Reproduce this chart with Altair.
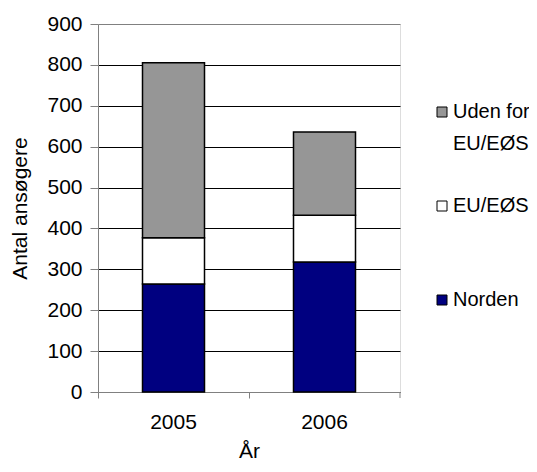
import altair as alt
import pandas as pd

years = ["2005", "2006"]
series = ["Norden", "EU/EØS", "Uden for EU/EØS"]
norden = [264, 318]
eu_eos = [113, 114]
uden_for = [428, 204]

colors = {"Uden for EU/EØS": "#969696", "EU/EØS": "#ffffff", "Norden": "#000080"}
legend_order = ["Uden for EU/EØS", "EU/EØS", "Norden"]

rows = []
for i, y in enumerate(years):
    for rank, (name, vals) in enumerate(zip(series, [norden, eu_eos, uden_for])):
        rows.append({"year": y, "series": name, "value": vals[i], "rank": rank})
df = pd.DataFrame(rows)

FONT = "Liberation Sans"

bars = alt.Chart(df).mark_bar(width=62, stroke="black", strokeWidth=1.5).encode(
    x=alt.X(
        "year:N",
        title="År",
        scale=alt.Scale(paddingInner=0, paddingOuter=0),
        axis=alt.Axis(
            bandPosition=0, labelAngle=0, tickSize=6, labelPadding=13,
            labelFontSize=21, titleFontSize=21, titleFontWeight="normal",
            titlePadding=8, domainColor="#808080", tickColor="#808080",
            labelColor="black", titleColor="black", labelFont=FONT, titleFont=FONT,
        ),
    ),
    y=alt.Y(
        "value:Q",
        stack="zero",
        title="Antal ansøgere",
        scale=alt.Scale(domain=[0, 900]),
        axis=alt.Axis(
            values=list(range(0, 901, 100)), tickSize=8, labelPadding=8,
            labelFontSize=21, titleFontSize=21, titleFontWeight="normal",
            titlePadding=16, grid=True,
            gridColor=alt.condition("datum.value == 900", alt.value("#808080"), alt.value("black")),
            gridWidth=1,
            domainColor="#808080", tickColor="#808080",
            labelColor="black", titleColor="black", labelFont=FONT, titleFont=FONT,
        ),
    ),
    color=alt.Color(
        "series:N",
        scale=alt.Scale(domain=legend_order, range=[colors[s] for s in legend_order]),
        legend=alt.Legend(
            title=None, orient="none", legendX=334, legendY=78, padding=0,
            symbolType="square", symbolSize=100, symbolStrokeColor="black",
            symbolStrokeWidth=1, symbolOpacity=1, labelFontSize=20, labelFont=FONT,
            labelColor="black", labelOffset=1, rowPadding=42, gridAlign="all",
            labelLimit=200,
            labelExpr="datum.label == 'Uden for EU/EØS' ? ['Uden for', 'EU/EØS'] : datum.label",
        ),
    ),
    order=alt.Order("rank:Q", sort="ascending"),
)

end_tick = alt.Chart(pd.DataFrame({"t": [0]})).mark_rule(color="#808080").encode(
    x=alt.value(302), y=alt.value(368), y2=alt.value(374)
)

chart = (
    alt.layer(bars, end_tick)
    .properties(
        width=302, height=368,
        autosize=alt.AutoSizeParams(type="none"),
        padding={"left": 90, "top": 16, "right": 129, "bottom": 72},
    )
    .configure_view(stroke="#808080", strokeWidth=1)
    .configure(background="white", style={"guide-label": {"lineHeight": 32}})
)

chart.save("out.html", embed_options={"renderer": "svg", "actions": False})
